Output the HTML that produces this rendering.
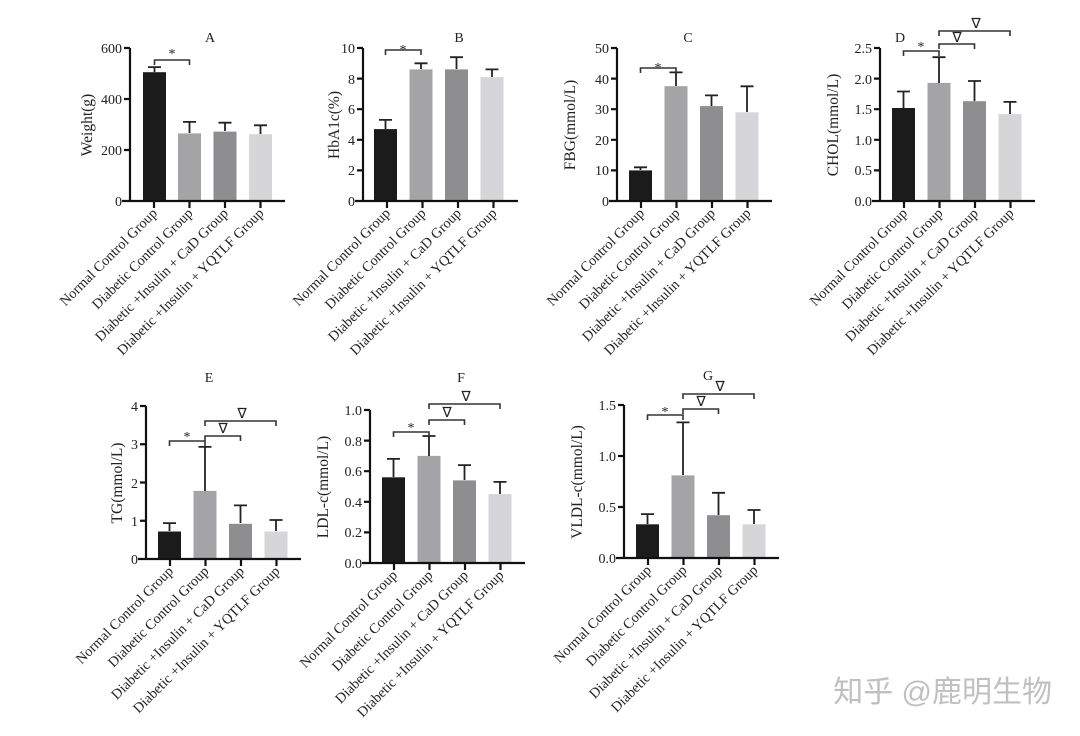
<!DOCTYPE html>
<html><head><meta charset="utf-8"><style>
html,body{margin:0;padding:0;background:#fff;}
svg{display:block;font-family:"Liberation Serif",serif;}
.ax{stroke:#111;stroke-width:2.2;fill:none}
.e{stroke:#222;stroke-width:1.8;fill:none}
.br{stroke:#333;stroke-width:1.6;fill:none}
.t{font-size:14px;fill:#222}
.yt{font-size:15.5px;fill:#222}
.xl{font-size:14.3px;fill:#222;text-anchor:end}
.b1{fill:#1b1b1b}.b2{fill:#a4a4a6}.b3{fill:#8e8e90}.b4{fill:#d6d6d8}
</style></head><body>
<svg width="1080" height="736" viewBox="0 0 1080 736">
<defs>
<g id="xa">
<path class="ax" d="M-8,153 H155 M0,0 V153 M24,153 v7 M59.5,153 v7 M95,153 v7 M130.5,153 v7"/>
<text class="xl" transform="translate(28,166) rotate(-45)">Normal Control Group</text>
<text class="xl" transform="translate(63.5,166) rotate(-45)">Diabetic Control Group</text>
<text class="xl" transform="translate(99,166) rotate(-45)">Diabetic +Insulin + CaD Group</text>
<text class="xl" transform="translate(134.5,166) rotate(-45)">Diabetic +Insulin + YQTLF Group</text>
</g>
</defs>

<!-- A -->
<g transform="translate(130,48)">
<rect class="b1" x="13" y="24.2" width="23" height="128.8"/>
<rect class="b2" x="48" y="85.4" width="23" height="67.6"/>
<rect class="b3" x="83.5" y="83.6" width="23" height="69.4"/>
<rect class="b4" x="119" y="86.2" width="23" height="66.8"/>
<path class="e" d="M24.5,24 V19.1 M18,19.1 h13 M59.5,85 V73.9 M53,73.9 h13 M95,83 V74.7 M88.5,74.7 h13 M130.5,86 V77.3 M124,77.3 h13"/>
<path class="br" d="M24.5,17 V12 H59.5 V17"/><text class="t" x="42" y="10" text-anchor="middle">*</text>
<use href="#xa"/>
<path class="ax" d="M-6,0 H0 M-6,51 H0 M-6,102 H0"/>
<g class="t" text-anchor="end"><text x="-8" y="158">0</text><text x="-8" y="107">200</text><text x="-8" y="56">400</text><text x="-8" y="5">600</text></g>
<text class="yt" transform="translate(-38,77) rotate(-90)" text-anchor="middle">Weight(g)</text>
<text class="t" x="80" y="-6" text-anchor="middle">A</text>
</g>

<!-- B -->
<g transform="translate(363,48)">
<rect class="b1" x="11" y="81.1" width="23" height="71.9"/>
<rect class="b2" x="46.5" y="21.4" width="23" height="131.6"/>
<rect class="b3" x="82" y="21.4" width="23" height="131.6"/>
<rect class="b4" x="117.5" y="29.1" width="23" height="123.9"/>
<path class="e" d="M22.5,81 V71.9 M16,71.9 h13 M58,21 V15.3 M51.5,15.3 h13 M93.5,21 V9.2 M87,9.2 h13 M129,29 V21.4 M122.5,21.4 h13"/>
<path class="br" d="M22.5,7 V2 H58 V7"/><text class="t" x="40" y="6" text-anchor="middle">*</text>
<use href="#xa"/>
<path class="ax" d="M-6,0 H0 M-6,30.6 H0 M-6,61.2 H0 M-6,91.8 H0 M-6,122.4 H0"/>
<g class="t" text-anchor="end"><text x="-8" y="158">0</text><text x="-8" y="127">2</text><text x="-8" y="97">4</text><text x="-8" y="66">6</text><text x="-8" y="36">8</text><text x="-8" y="5">10</text></g>
<text class="yt" transform="translate(-24,77) rotate(-90)" text-anchor="middle">HbA1c(%)</text>
<text class="t" x="96" y="-6" text-anchor="middle">B</text>
</g>

<!-- C -->
<g transform="translate(617,48)">
<rect class="b1" x="12" y="122.4" width="23" height="30.6"/>
<rect class="b2" x="47.5" y="38.2" width="23" height="114.8"/>
<rect class="b3" x="83" y="58.1" width="23" height="94.9"/>
<rect class="b4" x="118.5" y="64.3" width="23" height="88.7"/>
<path class="e" d="M23.5,122 V119.3 M17,119.3 h13 M59,38 V24.4 M52.5,24.4 h13 M94.5,58 V47.4 M88,47.4 h13 M130,64 V38.3 M123.5,38.3 h13"/>
<path class="br" d="M23.5,25 V20 H59 V25"/><text class="t" x="41" y="24" text-anchor="middle">*</text>
<use href="#xa"/>
<path class="ax" d="M-6,0 H0 M-6,30.6 H0 M-6,61.2 H0 M-6,91.8 H0 M-6,122.4 H0"/>
<g class="t" text-anchor="end"><text x="-8" y="158">0</text><text x="-8" y="127">10</text><text x="-8" y="97">20</text><text x="-8" y="66">30</text><text x="-8" y="36">40</text><text x="-8" y="5">50</text></g>
<text class="yt" transform="translate(-42,77) rotate(-90)" text-anchor="middle">FBG(mmol/L)</text>
<text class="t" x="71" y="-6" text-anchor="middle">C</text>
</g>

<!-- D -->
<g transform="translate(880,48)">
<rect class="b1" x="12" y="60" width="23" height="93"/>
<rect class="b2" x="47.5" y="34.9" width="23" height="118.1"/>
<rect class="b3" x="83" y="53.2" width="23" height="99.8"/>
<rect class="b4" x="118.5" y="66.1" width="23" height="86.9"/>
<path class="e" d="M23.5,60 V43.5 M17,43.5 h13 M59,35 V9.2 M52.5,9.2 h13 M94.5,53 V33 M88,33 h13 M130,66 V53.9 M123.5,53.9 h13"/>
<path class="br" d="M23.5,8 V3 H59 V8 M59,1 V-4 H94.5 V1 M59,-12 V-17 H130 V-12"/>
<text class="t" x="41" y="3" text-anchor="middle">*</text>
<text class="t" x="77" y="-6" text-anchor="middle">∇</text>
<text class="t" x="96" y="-20" text-anchor="middle">∇</text>
<use href="#xa"/>
<path class="ax" d="M-6,0 H0 M-6,30.6 H0 M-6,61.2 H0 M-6,91.8 H0 M-6,122.4 H0"/>
<g class="t" text-anchor="end"><text x="-8" y="158">0.0</text><text x="-8" y="127">0.5</text><text x="-8" y="97">1.0</text><text x="-8" y="66">1.5</text><text x="-8" y="36">2.0</text><text x="-8" y="5">2.5</text></g>
<text class="yt" transform="translate(-42,77) rotate(-90)" text-anchor="middle">CHOL(mmol/L)</text>
<text class="t" x="20" y="-6" text-anchor="middle">D</text>
</g>

<!-- E -->
<g transform="translate(146,406)">
<rect class="b1" x="12" y="125.5" width="23" height="27.5"/>
<rect class="b2" x="47.5" y="84.9" width="23" height="68.1"/>
<rect class="b3" x="83" y="117.8" width="23" height="35.2"/>
<rect class="b4" x="118.5" y="125.5" width="23" height="27.5"/>
<path class="e" d="M23.5,125 V117.1 M17,117.1 h13 M59,85 V40.9 M52.5,40.9 h13 M94.5,117 V99.4 M88,99.4 h13 M130,125 V114 M123.5,114 h13"/>
<path class="br" d="M23.5,40 V35 H59 V40 M59,35 V30 H94.5 V35 M59,20 V15 H130 V20"/>
<text class="t" x="41" y="35" text-anchor="middle">*</text>
<text class="t" x="77" y="27" text-anchor="middle">∇</text>
<text class="t" x="96" y="12" text-anchor="middle">∇</text>
<use href="#xa"/>
<path class="ax" d="M-6,0 H0 M-6,38.25 H0 M-6,76.5 H0 M-6,114.75 H0"/>
<g class="t" text-anchor="end"><text x="-8" y="158">0</text><text x="-8" y="120">1</text><text x="-8" y="82">2</text><text x="-8" y="43">3</text><text x="-8" y="5">4</text></g>
<text class="yt" transform="translate(-24,77) rotate(-90)" text-anchor="middle">TG(mmol/L)</text>
<text class="t" x="63" y="-24" text-anchor="middle">E</text>
</g>

<!-- F -->
<g transform="translate(370,410)">
<rect class="b1" x="12" y="67.3" width="23" height="85.7"/>
<rect class="b2" x="47.5" y="45.9" width="23" height="107.1"/>
<rect class="b3" x="83" y="70.4" width="23" height="82.6"/>
<rect class="b4" x="118.5" y="84.1" width="23" height="68.9"/>
<path class="e" d="M23.5,67 V48.9 M17,48.9 h13 M59,46 V26 M52.5,26 h13 M94.5,70 V55.1 M88,55.1 h13 M130,84 V71.9 M123.5,71.9 h13"/>
<path class="br" d="M23.5,27 V22 H59 V27 M59,15 V10 H94.5 V15 M59,-1 V-6 H130 V-1"/>
<text class="t" x="41" y="22" text-anchor="middle">*</text>
<text class="t" x="77" y="7" text-anchor="middle">∇</text>
<text class="t" x="96" y="-9" text-anchor="middle">∇</text>
<use href="#xa"/>
<path class="ax" d="M-6,0 H0 M-6,30.6 H0 M-6,61.2 H0 M-6,91.8 H0 M-6,122.4 H0"/>
<g class="t" text-anchor="end"><text x="-8" y="158">0.0</text><text x="-8" y="127">0.2</text><text x="-8" y="97">0.4</text><text x="-8" y="66">0.6</text><text x="-8" y="36">0.8</text><text x="-8" y="5">1.0</text></g>
<text class="yt" transform="translate(-42,77) rotate(-90)" text-anchor="middle">LDL-c(mmol/L)</text>
<text class="t" x="91" y="-28" text-anchor="middle">F</text>
</g>

<!-- G -->
<g transform="translate(624,405)">
<rect class="b1" x="12" y="119.3" width="23" height="33.7"/>
<rect class="b2" x="47.5" y="70.4" width="23" height="82.6"/>
<rect class="b3" x="83" y="110.2" width="23" height="42.8"/>
<rect class="b4" x="118.5" y="119.3" width="23" height="33.7"/>
<path class="e" d="M23.5,119 V109.1 M17,109.1 h13 M59,70 V17.4 M52.5,17.4 h13 M94.5,110 V87.8 M88,87.8 h13 M130,119 V105 M123.5,105 h13"/>
<path class="br" d="M23.5,15 V10 H59 V15 M59,9 V4 H94.5 V9 M59,-6 V-11 H130 V-6"/>
<text class="t" x="41" y="11" text-anchor="middle">*</text>
<text class="t" x="77" y="1" text-anchor="middle">∇</text>
<text class="t" x="96" y="-14" text-anchor="middle">∇</text>
<use href="#xa"/>
<path class="ax" d="M-6,0 H0 M-6,51 H0 M-6,102 H0"/>
<g class="t" text-anchor="end"><text x="-8" y="158">0.0</text><text x="-8" y="107">0.5</text><text x="-8" y="56">1.0</text><text x="-8" y="5">1.5</text></g>
<text class="yt" transform="translate(-42,77) rotate(-90)" text-anchor="middle">VLDL-c(mmol/L)</text>
<text class="t" x="84" y="-25" text-anchor="middle">G</text>
</g>

<text x="1052" y="702" text-anchor="end" style="font-family:'Liberation Sans','Noto Sans CJK SC',sans-serif;font-size:30px;fill:#c0c0c0">知乎 @鹿明生物</text>
</svg>
</body></html>
